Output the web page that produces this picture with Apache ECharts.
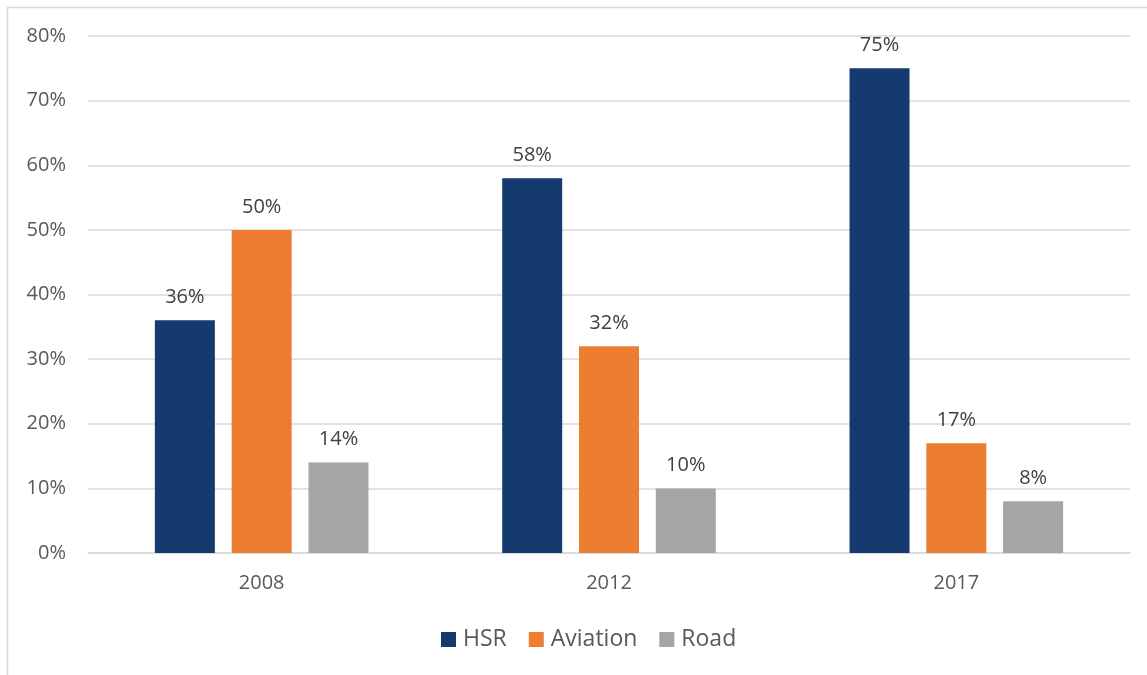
<!DOCTYPE html>
<html>
<head>
<meta charset="utf-8">
<script src="https://cdn.jsdelivr.net/npm/echarts@6/dist/echarts.min.js"></script>
<style>
  html, body { margin: 0; padding: 0; background: #fff; }
  #chart { width: 1147px; height: 675px; }
</style>
</head>
<body>
<div id="chart"></div>
<script>
// Share of intercity trips by mode, per year
const years = ['2008', '2012', '2017'];
const hsr = [36, 58, 75];
const aviation = [50, 32, 17];
const road = [14, 10, 8];
const yTicks = { min: 0, max: 80, step: 10 };

const FONT = '"Open Sans", "Noto Sans", sans-serif';

const labelStyle = {
  show: true,
  position: 'top',
  distance: 13,
  formatter: p => p.value + '%',
  color: '#404040',
  fontSize: 20,
  fontFamily: FONT
};

function barSeries(name, data, color) {
  return {
    name: name,
    type: 'bar',
    data: data,
    barWidth: 60,
    barGap: '28%',
    itemStyle: { color: color },
    label: labelStyle
  };
}

const chart = echarts.init(document.getElementById('chart'));
chart.setOption({
  animation: false,
  backgroundColor: '#ffffff',
  textStyle: { fontFamily: FONT },
  graphic: [{
    type: 'rect',
    shape: { x: 7.5, y: 7.5, width: 1200, height: 700 },
    style: { fill: 'none', stroke: '#d9d9d9', lineWidth: 1.5 },
    silent: true
  }],
  grid: { left: 88, right: 17, top: 36, bottom: 122 },
  legend: {
    bottom: 19,
    left: 436,
    itemWidth: 15,
    itemHeight: 15,
    itemGap: 22,
    icon: 'rect',
    textStyle: { color: '#595959', fontSize: 23, fontFamily: FONT, padding: [0, 0, 0, 2] }
  },
  xAxis: {
    type: 'category',
    data: years,
    axisLine: { lineStyle: { color: '#d9d9d9', width: 1.5 } },
    axisTick: { show: false },
    axisLabel: { color: '#595959', fontSize: 20, margin: 20, fontFamily: FONT }
  },
  yAxis: {
    type: 'value',
    min: yTicks.min,
    max: yTicks.max,
    interval: yTicks.step,
    axisLine: { show: false },
    axisTick: { show: false },
    splitLine: { lineStyle: { color: '#d9d9d9', width: 1.5 } },
    axisLabel: { color: '#595959', fontSize: 20, margin: 22, formatter: '{value}%', fontFamily: FONT }
  },
  series: [
    barSeries('HSR', hsr, '#153a6f'),
    barSeries('Aviation', aviation, '#ed7d31'),
    barSeries('Road', road, '#a5a5a5')
  ]
});
</script>
</body>
</html>
